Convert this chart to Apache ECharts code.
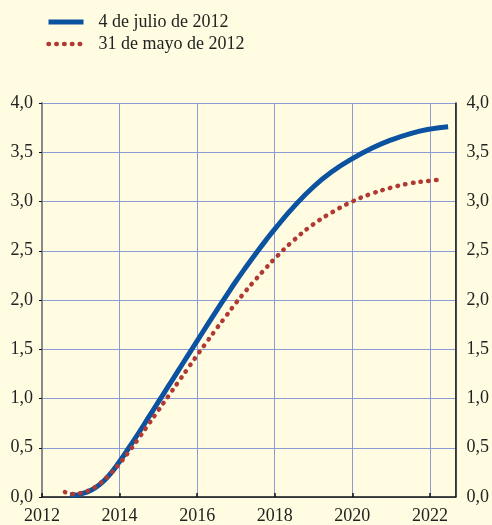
<!DOCTYPE html>
<html>
<head>
<meta charset="utf-8">
<script src="https://cdn.jsdelivr.net/npm/echarts@6/dist/echarts.min.js"></script>
<style>
  html, body { margin: 0; padding: 0; background: #fffce1; }
  #chart { width: 492px; height: 525px; }
</style>
</head>
<body>
<div id="chart"></div>
<script>
// curva de tipos: 4 de julio de 2012
const julioYears = [2012.72, 2012.9, 2013.0, 2013.25, 2013.5, 2013.75, 2014.0, 2014.25, 2014.5, 2014.75,
  2015.0, 2015.25, 2015.5, 2015.75, 2016.0, 2016.25, 2016.5, 2016.75, 2017.0, 2017.25, 2017.5, 2017.75,
  2018.0, 2018.5, 2019.0, 2019.5, 2020.0, 2020.5, 2021.0, 2021.5, 2022.0, 2022.47]
const julioValues = [0.02, 0.02, 0.03, 0.065, 0.13, 0.23, 0.36, 0.505, 0.655, 0.81,
  0.965, 1.12, 1.275, 1.43, 1.585, 1.74, 1.893, 2.043, 2.19, 2.33, 2.465, 2.595,
  2.72, 2.95, 3.15, 3.31, 3.435, 3.54, 3.625, 3.69, 3.735, 3.76]

// curva de tipos: 31 de mayo de 2012
const mayoYears = [2012.59, 2012.78, 2013.0, 2013.25, 2013.5, 2013.75, 2014.0, 2014.25, 2014.5, 2014.75,
  2015.0, 2015.25, 2015.5, 2015.75, 2016.0, 2016.25, 2016.5, 2016.75, 2017.0, 2017.25, 2017.5, 2017.75,
  2018.0, 2018.5, 2019.0, 2019.5, 2020.0, 2020.5, 2021.0, 2021.5, 2022.0, 2022.22]
const mayoValues = [0.05, 0.03, 0.04, 0.075, 0.14, 0.23, 0.34, 0.465, 0.60, 0.74,
  0.88, 1.02, 1.16, 1.30, 1.44, 1.575, 1.71, 1.84, 1.97, 2.09, 2.205, 2.315,
  2.42, 2.61, 2.77, 2.895, 3.00, 3.08, 3.14, 3.185, 3.21, 3.22]

const seriesNames = ['4 de julio de 2012', '31 de mayo de 2012']

const serif = 'Liberation Serif'
const blue = '#0b52a0'
const red = '#b03a33'
const gridColor = '#8a9bd5'
const fmtComma = v => v.toFixed(1).replace('.', ',')

const chartDom = document.getElementById('chart')
var myChart = echarts.init(chartDom)
var option

const blueLine = { color: blue, width: 5 }
const redLine = { color: red, width: 4.5, type: [0.5, 7.3], cap: 'round' }

option = {
  animation: false,
  backgroundColor: '#fffce1',
  legend: {
    orient: 'vertical',
    left: 41,
    top: 8,
    itemWidth: 35,
    itemHeight: 10,
    itemGap: 4,
    itemStyle: { opacity: 0 },
    textStyle: {
      fontFamily: serif,
      fontSize: 18,
      lineHeight: 18,
      color: '#222',
      padding: [0, 0, 0, 10]
    },
    data: [
      { name: seriesNames[0], lineStyle: blueLine },
      { name: seriesNames[1], lineStyle: redLine }
    ]
  },
  grid: {
    left: 42,
    right: 34,
    top: 103,
    bottom: 26
  },
  xAxis: {
    type: 'value',
    min: 2012,
    max: 2022.66,
    interval: 2,
    axisLine: { lineStyle: { color: '#111', width: 1.5 } },
    axisTick: { inside: true, length: 4, lineStyle: { color: '#111', width: 1.5 } },
    axisLabel: {
      fontFamily: serif,
      fontSize: 18,
      color: '#222',
      margin: 10,
      showMaxLabel: false,
      formatter: v => (Math.abs(v % 2) < 1e-6 ? String(v) : '')
    },
    splitLine: { show: true, lineStyle: { color: gridColor, width: 1 } }
  },
  yAxis: [
    {
      type: 'value',
      min: 0,
      max: 4,
      interval: 0.5,
      position: 'left',
      axisLine: { show: true, lineStyle: { color: '#8a8a8a', width: 2 } },
      axisTick: { show: true, length: 3, lineStyle: { color: '#111' } },
      axisLabel: { fontFamily: serif, fontSize: 18, color: '#222', margin: 9, formatter: fmtComma },
      splitLine: { show: true, lineStyle: { color: gridColor, width: 1 } }
    },
    {
      type: 'value',
      min: 0,
      max: 4,
      interval: 0.5,
      position: 'right',
      axisLine: { show: true, lineStyle: { color: '#111', width: 1.5 } },
      axisTick: { show: false },
      axisLabel: { fontFamily: serif, fontSize: 18, color: '#222', margin: 11, formatter: fmtComma },
      splitLine: { show: false }
    }
  ],
  series: [
    {
      name: seriesNames[0],
      type: 'line',
      smooth: 0.5,
      symbol: 'none',
      lineStyle: blueLine,
      itemStyle: { color: blue },
      data: julioYears.map((x, i) => [x, julioValues[i]])
    },
    {
      name: seriesNames[1],
      type: 'line',
      smooth: 0.5,
      symbol: 'none',
      lineStyle: redLine,
      itemStyle: { color: red },
      data: mayoYears.map((x, i) => [x, mayoValues[i]])
    }
  ]
}

option && myChart.setOption(option)
</script>
</body>
</html>
